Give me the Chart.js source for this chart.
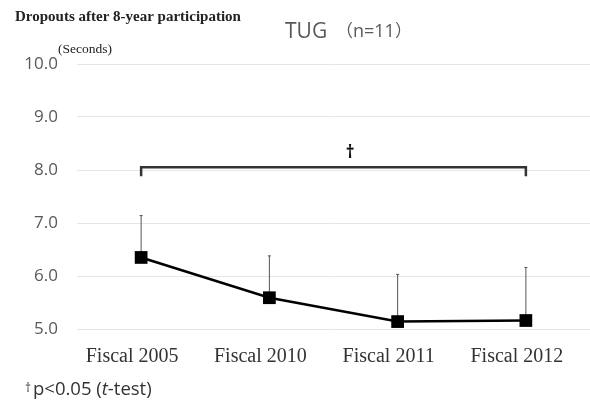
<!DOCTYPE html>
<html>
<head>
<meta charset="utf-8">
<script src="https://cdn.jsdelivr.net/npm/chart.js@4/dist/chart.umd.min.js"></script>
<style>
  html, body { margin: 0; padding: 0; background: #fff; }
  #wrap { width: 590px; height: 403px; position: relative; }
</style>
</head>
<body>
<div id="wrap"><canvas id="c" width="590" height="403"></canvas></div>
<script>
// TUG times (seconds) by fiscal year, mean with +SD
const categories = ['Fiscal 2005', 'Fiscal 2010', 'Fiscal 2011', 'Fiscal 2012'];
const meanSeconds = [6.35, 5.59, 5.14, 5.16];
const sdSeconds = [0.79, 0.79, 0.89, 1.00];
const yTicks = [5, 6, 7, 8, 9, 10];

// significance bracket between first and last year
const bracketLevel = 8.05;
const bracketDrop = 0.17;
const daggerPosition = 1.63;

const serif = '"Liberation Serif", "DejaVu Serif", serif';
const sans = '"Open Sans", "Noto Sans", sans-serif';
const cjk = '"Noto Sans CJK JP", ' + sans;

const errorBars = {
  id: 'errorBars',
  beforeDatasetsDraw(chart) {
    const { ctx, scales: { x, y } } = chart;
    ctx.save();
    ctx.strokeStyle = '#555';
    ctx.lineWidth = 1;
    meanSeconds.forEach((m, i) => {
      const px = x.getPixelForValue(i);
      const top = y.getPixelForValue(m + sdSeconds[i]);
      ctx.beginPath();
      ctx.moveTo(px, y.getPixelForValue(m));
      ctx.lineTo(px, top);
      ctx.moveTo(px - 1.5, top);
      ctx.lineTo(px + 1.5, top);
      ctx.stroke();
    });
    ctx.restore();
  }
};

// draws consecutive text runs starting at x
function runs(ctx, parts, x, y) {
  parts.forEach(([t, f]) => {
    ctx.font = f;
    ctx.fillText(t, x, y);
    x += ctx.measureText(t).width;
  });
}

const annotations = {
  id: 'annotations',
  afterDraw(chart) {
    const { ctx, scales: { x, y } } = chart;
    ctx.save();
    // bracket
    const x0 = x.getPixelForValue(0);
    const x1 = x.getPixelForValue(categories.length - 1);
    const yb = y.getPixelForValue(bracketLevel);
    const yd = y.getPixelForValue(bracketLevel - bracketDrop);
    ctx.strokeStyle = '#333';
    ctx.lineWidth = 2.5;
    ctx.beginPath();
    ctx.moveTo(x0, yd);
    ctx.lineTo(x0, yb);
    ctx.lineTo(x1, yb);
    ctx.lineTo(x1, yd);
    ctx.stroke();
    ctx.fillStyle = '#111';
    ctx.font = 'bold 17px ' + sans;
    ctx.textAlign = 'center';
    ctx.textBaseline = 'alphabetic';
    ctx.fillText('†', x.getPixelForValue(daggerPosition), yb - 9);

    // header texts
    ctx.textAlign = 'left';
    ctx.fillStyle = '#222';
    ctx.font = 'bold 15px ' + serif;
    ctx.fillText('Dropouts after 8-year participation', 15, 21);
    ctx.font = '13.5px ' + serif;
    ctx.fillText('(Seconds)', 58, 53);

    ctx.fillStyle = '#595959';
    ctx.font = '21px ' + sans;
    ctx.fillText('TUG', 285, 38);
    runs(ctx, [['（', '17px ' + cjk], ['n=11', '18px ' + sans], ['）', '17px ' + cjk]], 336, 37);

    // footnote
    ctx.fillStyle = '#333';
    ctx.font = '12px ' + sans;
    ctx.fillText('†', 25, 392);
    runs(ctx, [['p<0.05 (', '18.5px ' + sans], ['t', 'italic 18.5px ' + sans], ['-test)', '18.5px ' + sans]], 33, 395);
    ctx.restore();
  }
};

new Chart(document.getElementById('c'), {
  type: 'line',
  data: {
    labels: categories,
    datasets: [{
      data: meanSeconds,
      borderColor: '#000',
      borderWidth: 2.5,
      backgroundColor: '#000',
      pointStyle: 'rect',
      pointRadius: 9,
      pointBorderWidth: 0,
      tension: 0
    }]
  },
  options: {
    responsive: false,
    animation: false,
    layout: { autoPadding: false, padding: { top: 64, right: 0, bottom: 0, left: 0 } },
    plugins: { legend: { display: false }, tooltip: { enabled: false } },
    scales: {
      x: {
        offset: true,
        grid: { display: false, drawTicks: false },
        border: { display: false },
        ticks: {
          padding: 16,
          labelOffset: -9,
          color: '#333',
          font: { family: serif, size: 20 },
          maxRotation: 0
        },
        afterFit(scale) { scale.height = 74; }
      },
      y: {
        min: 5,
        max: 10,
        afterBuildTicks(scale) { scale.ticks = yTicks.map(v => ({ value: v })); },
        grid: { color: '#e6e6e6', lineWidth: 1, drawTicks: false },
        border: { display: false },
        ticks: {
          padding: 19,
          color: '#595959',
          font: { family: sans, size: 17 },
          callback: v => Number(v).toFixed(1)
        },
        afterFit(scale) { scale.width = 77; }
      }
    }
  },
  plugins: [errorBars, annotations]
});
</script>
</body>
</html>
